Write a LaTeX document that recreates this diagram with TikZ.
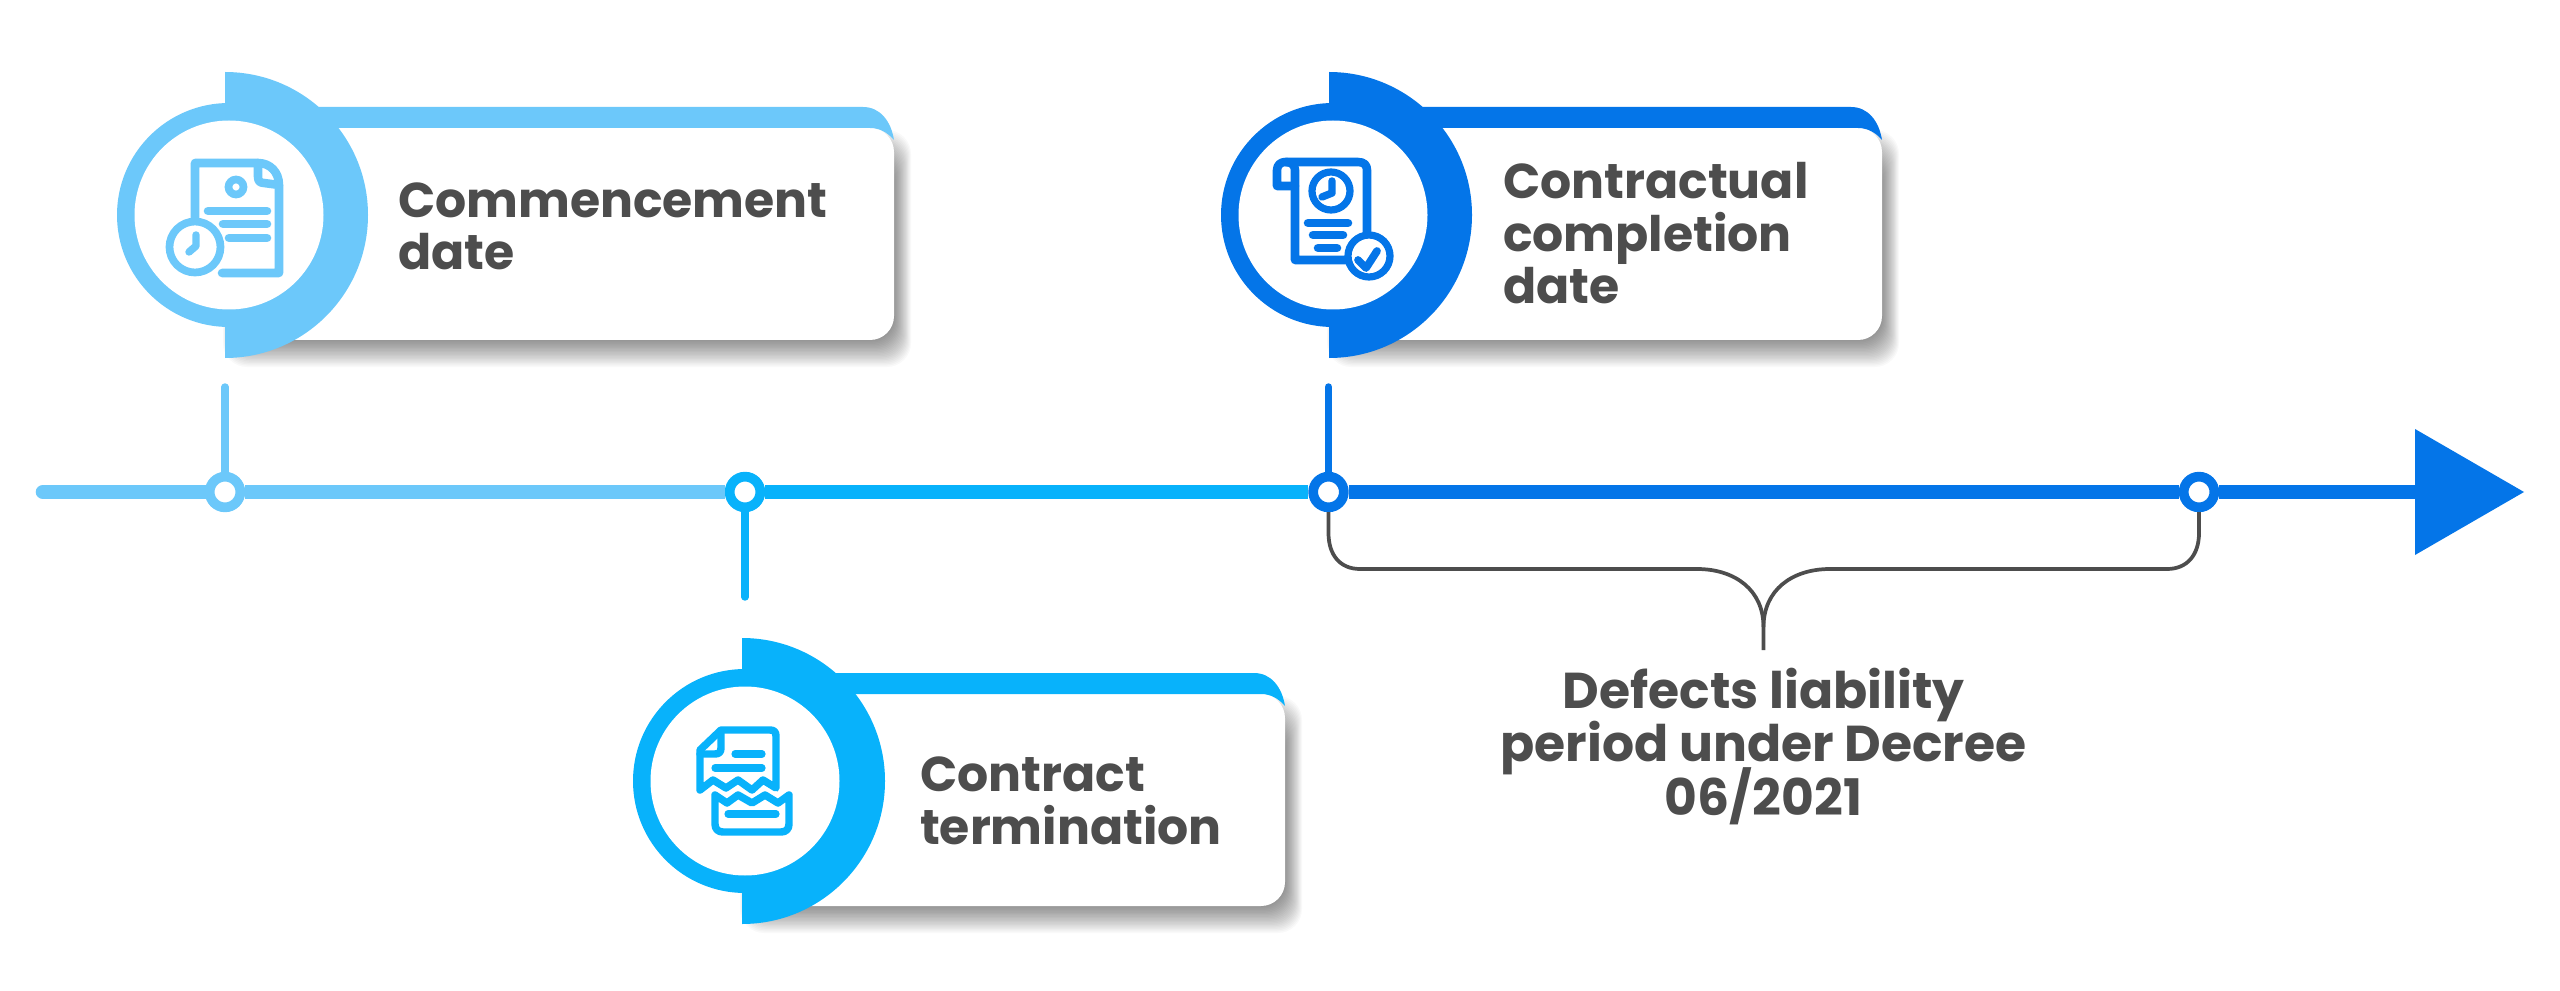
\documentclass[tikz,border=0pt]{standalone}
\usepackage{fontspec}
\setmainfont{Poppins}
\lineskiplimit=-100pt
\definecolor{cLight}{HTML}{6CC8FA}
\definecolor{cMid}{HTML}{08B2FB}
\definecolor{cDark}{HTML}{0475E8}
\definecolor{cText}{HTML}{4D4D4D}
\tikzset{
  lbl/.style={text=cText,font=\fontsize{36.7pt}{39.5pt}\selectfont\bfseries,inner sep=0pt,outer sep=0pt},
  lblb/.style={text=cText,font=\fontsize{37.8pt}{39.8pt}\selectfont\bfseries,inner sep=0pt,outer sep=0pt},
  mark ring/.style={circle,draw=#1,fill=white,line width=7.3pt,minimum size=23pt,inner sep=0pt},
  axisline/.style={line width=10.9pt,draw=#1},
  ticklne/.style={line width=5.6pt,draw=#1},
  brace/.style={line width=2.8pt,draw=cText},
  ico/.style={draw=#1,line width=6.4pt,line cap=round,line join=round},
  icothin/.style={draw=#1,line width=5.6pt,line cap=round,line join=round},
}
% #1 colour, #2 cut x, #3 circle centre x, #4 centre y, #5 card right
\newcommand{\cardbadge}[5]{%
  \pgfmathsetmacro{\cbot}{#4+125}
  \foreach \i in {1,...,20}{
    \fill[black,opacity=0.022,rounded corners=18pt]
      ({#2+14-0.8*\i},{#4-55-1.5*\i}) rectangle ({#5+0.85*\i},{\cbot+1.35*\i});
  }
  \fill[white,rounded corners=18pt] (#2,{#4-87}) rectangle (#5,\cbot);
  \fill[#1] (#2,{#4-108}) -- ({#5-31},{#4-108}) .. controls ({#5-14},{#4-108}) and ({#5-3},{#4-94}) .. (#5,{#4-75})
     .. controls ({#5-6},{#4-82}) and ({#5-14},{#4-87}) .. ({#5-24},{#4-87}) -- (#2,{#4-87}) -- cycle;
  \fill[#1] (#2,{#4-143}) arc[start angle=-90,end angle=90,radius=143] -- cycle;
  \fill[#1] (#3,#4) circle[radius=112];
  \fill[white] (#3,#4) circle[radius=94.5];
}
\begin{document}
\begin{tikzpicture}[x=0.75pt,y=-0.75pt]
\useasboundingbox[fill=white] (0,0) rectangle (2560,991);

% cards and badges
\cardbadge{cLight}{225}{229}{215}{894}
\cardbadge{cDark}{1329}{1333}{215}{1882}
\cardbadge{cMid}{742}{745}{781}{1285}

% icon 1
\begin{scope}
\draw[ico=cLight] (195,225) -- (195,163) -- (258,163) .. controls (270,163) and (279,172) .. (279,185) -- (279,273) -- (222,273);
\draw[ico=cLight] (258,163) -- (258,177) .. controls (258,181) and (260,183) .. (264,183) -- (279,185);
\draw[ico=cLight,line width=5.8pt] (236,187) circle[radius=7.5];
\draw[ico=cLight] (208,211) -- (267,211) (223,224) -- (267,224) (229,238) -- (267,238);
\draw[ico=cLight,fill=white,line width=5.8pt] (195,247) circle[radius=25.5];
\draw[icothin=cLight] (196,235) -- (196,246) -- (189,252);
\end{scope}

% icon 2
\begin{scope}
\draw[ico=cDark] (1295,186) -- (1277,186) -- (1277,170) .. controls (1277,165) and (1281,162) .. (1285,162) -- (1358,162) .. controls (1364,162) and (1367,165) .. (1367,170) -- (1367,240);
\draw[ico=cDark] (1286,162) .. controls (1292,162) and (1295,166) .. (1295,170) -- (1295,260) -- (1350,260);
\draw[ico=cDark,line width=5.4pt] (1331,191) circle[radius=19];
\draw[icothin=cDark] (1332,181) -- (1332,193) -- (1322,197);
\draw[ico=cDark] (1308,223) -- (1348,223) (1313,235) -- (1343,235) (1318,248) -- (1337,248);
\draw[ico=cDark,fill=white,line width=5.4pt] (1369,256) circle[radius=21];
\draw[ico=cDark,line width=5.8pt] (1358,260) -- (1366,268) -- (1377,251);
\end{scope}

% icon 3
\begin{scope}
\draw[icothin=cMid] (700,790) -- (700,750) -- (721,730) -- (770,730) .. controls (774,730) and (776,732) .. (776,736) -- (776,788)
   -- (763,780) -- (752,790) -- (738,780) -- (726,788) -- (713,780) -- cycle;
\draw[icothin=cMid] (721,732) -- (721,748) .. controls (721,752) and (719,754) .. (715,754) -- (700,754);
\draw[ico=cMid,line width=5.4pt] (735,754) -- (762,754) (715,768) -- (762,768);
\draw[icothin=cMid] (715,795) -- (715,824) .. controls (715,829) and (718,832) .. (723,832) -- (781,832) .. controls (786,832) and (789,829) .. (789,824) -- (789,795)
   -- (778,803) -- (765,795) -- (752,803) -- (738,795) -- (727,803) -- cycle;
\draw[ico=cMid,line width=5.4pt] (728,814) -- (776,814);
\end{scope}

% labels
\node[lbl,anchor=base west,align=left] (lab1) at (398,270) {Commencement\\date};
\node[lbl,anchor=base west,align=left] (lab2) at (1503,304) {Contractual\\completion\\date};
\node[lbl,anchor=base west,align=left] (lab3) at (920,844) {Contract\\termination};
\node[lblb,anchor=base,align=center] (lab4) at (1763.5,815) {Defects liability\\period under Decree\\06/2021};

% timeline
\coordinate (start) at (43,492);
\node[mark ring=cLight] (m1) at (225,492) {};
\node[mark ring=cMid] (m2) at (745,492) {};
\node[mark ring=cDark] (m3) at (1328.5,492) {};
\node[mark ring=cDark] (m4) at (2199,492) {};
\coordinate (arrowbase) at (2416,492);
\coordinate (tip) at (2524,492);
\coordinate (t1) at (225,387);
\coordinate (t2) at (745,597);
\coordinate (t3) at (1328.5,387);
\coordinate (stem) at (1763.5,650);

\draw[axisline=cLight,line cap=round] (start) -- (m1);
\draw[axisline=cLight] (m1) -- (m2);
\draw[axisline=cMid] (m2) -- (m3);
\draw[axisline=cDark] (m3) -- (m4);
\draw[axisline=cDark] (m4) -- (arrowbase);
\fill[cDark] (2415,429) -- (tip) -- (2415,555) -- cycle;
\draw[ticklne=cLight,line cap=round] (m1) -- (t1);
\draw[ticklne=cMid,line cap=round] (m2) -- (t2);
\draw[ticklne=cDark,line cap=round] (m3) -- (t3);

% bracket
\draw[brace] (m3) -- (1328.5,533) .. controls (1328.5,555) and (1340,569) .. (1360,569) -- (1697,569)
  .. controls (1735,569) and (1763.5,590) .. (1763.5,627) -- (stem);
\draw[brace] (m4) -- (2199,533) .. controls (2199,555) and (2187,569) .. (2167,569) -- (1830,569)
  .. controls (1792,569) and (1763.5,590) .. (1763.5,627);
\end{tikzpicture}
\end{document}
